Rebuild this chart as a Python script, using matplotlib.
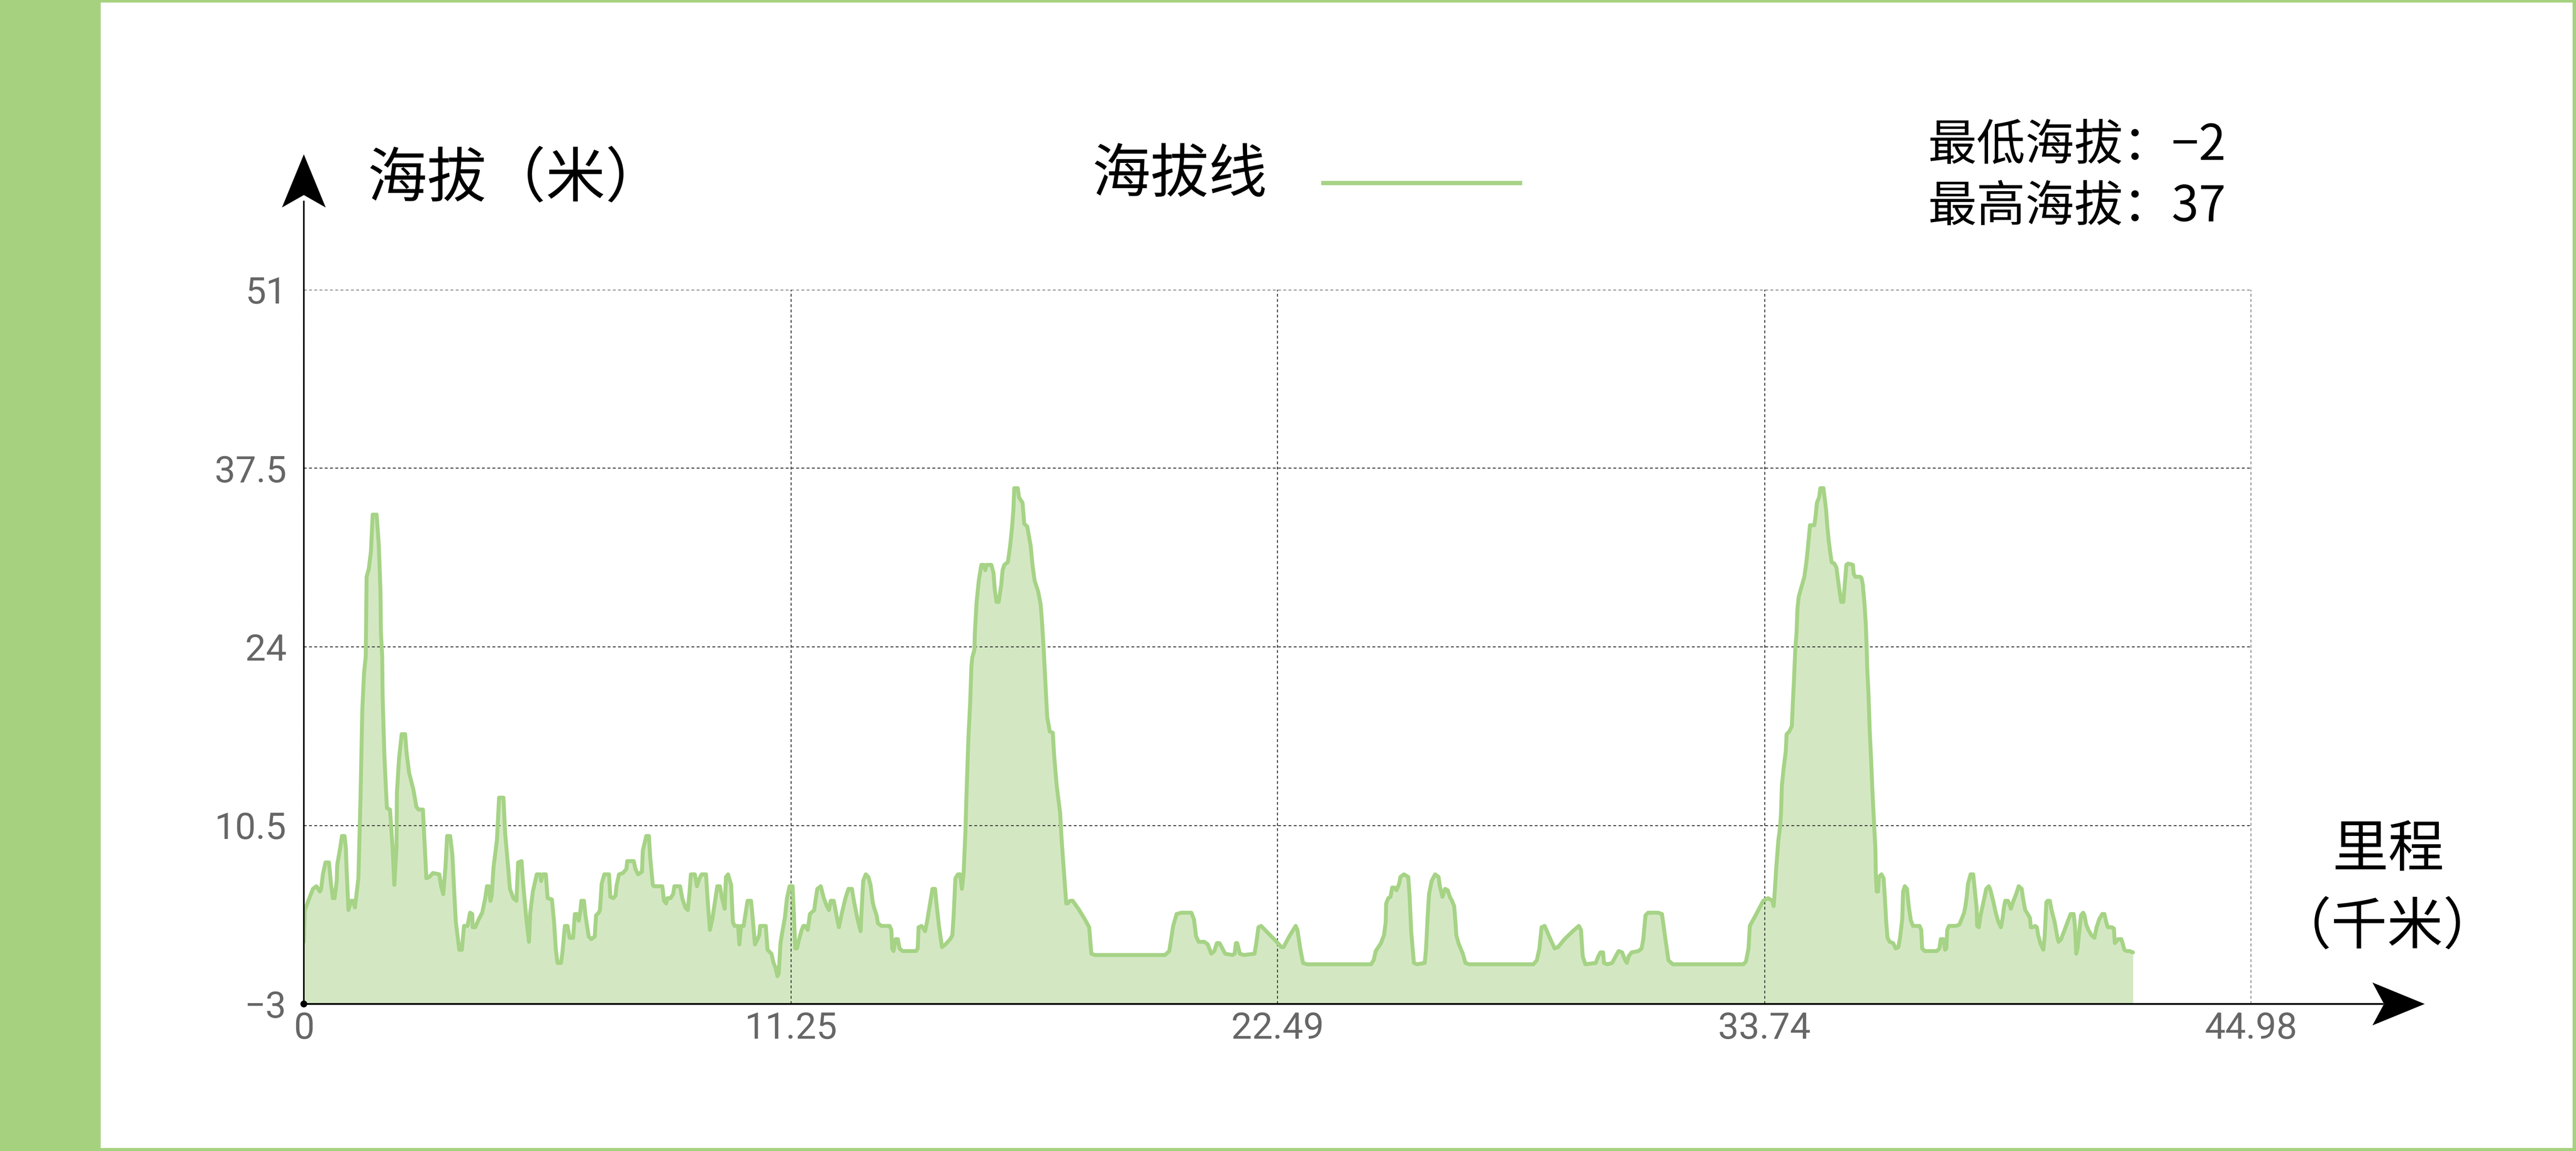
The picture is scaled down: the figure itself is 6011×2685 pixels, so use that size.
import matplotlib
matplotlib.use('Agg')
import matplotlib.pyplot as plt
from matplotlib.patches import Rectangle, Polygon, Circle

# elevation profile, in four stretches
# distance in km, elevation in m
dist_a = [0.0, 0.02, 0.21, 0.29, 0.37, 0.40, 0.44, 0.50, 0.58, 0.63,
          0.67, 0.71, 0.76, 0.77, 0.84, 0.88, 0.94, 0.97, 0.99, 1.03,
          1.09, 1.14, 1.18, 1.26, 1.31, 1.35, 1.39, 1.43, 1.45, 1.50,
          1.55, 1.59, 1.68, 1.73, 1.77, 1.78, 1.81, 1.82, 1.86, 1.90,
          1.92, 1.99, 2.05, 2.09, 2.14, 2.15, 2.20, 2.26, 2.34, 2.37,
          2.43, 2.53, 2.60, 2.65, 2.75, 2.79, 2.83, 2.90, 2.98, 3.13,
          3.17, 3.22, 3.27, 3.31, 3.38, 3.43, 3.47, 3.51, 3.59, 3.65,
          3.70, 3.78, 3.84, 3.89, 3.90, 3.96, 4.04, 4.12, 4.19, 4.23,
          4.27, 4.31, 4.34, 4.38, 4.46, 4.51, 4.61, 4.65, 4.72, 4.76,
          4.84, 4.91, 4.95, 5.03, 5.06, 5.14, 5.20, 5.23, 5.29, 5.38,
          5.46, 5.48, 5.52, 5.59, 5.63, 5.73, 5.78, 5.82, 5.86, 5.94,
          5.97, 6.03, 6.09, 6.14, 6.22, 6.26, 6.31, 6.35, 6.39, 6.41,
          6.47, 6.50, 6.58, 6.64, 6.72, 6.75, 6.81, 6.84, 6.88, 6.94,
          7.05, 7.08, 7.15, 7.20, 7.22, 7.28, 7.37, 7.45, 7.47, 7.62,
          7.66, 7.72, 7.81, 7.83, 7.91, 7.97, 8.00, 8.06, 8.09, 8.28,
          8.32, 8.37, 8.40, 8.47, 8.53, 8.56, 8.69, 8.74, 8.81, 8.87,
          8.91, 8.94, 9.03, 9.08, 9.14, 9.19, 9.29, 9.33, 9.38, 9.44,
          9.50, 9.55, 9.61, 9.66, 9.72, 9.75, 9.80, 9.87, 9.91, 9.95,
          10.03, 10.06, 10.10, 10.16, 10.20, 10.25, 10.33, 10.37, 10.42, 10.48,
          10.52, 10.54, 10.67, 10.71, 10.80, 10.85, 10.90, 10.94, 10.97, 11.01,
          11.05, 11.11, 11.16, 11.22, 11.29, 11.32, 11.35, 11.39, 11.44, 11.50,
          11.54, 11.58, 11.64, 11.69, 11.79]
elev_a = [1.7, 4.1, 5.7, 5.9, 5.5, 5.7, 6.8, 7.7, 7.7, 6.0,
          5.0, 5.0, 6.3, 7.5, 8.8, 9.7, 9.7, 8.8, 7.0, 4.1,
          4.8, 4.8, 4.3, 6.5, 12.7, 19.2, 22.0, 23.3, 29.3, 29.9,
          31.2, 34.0, 34.0, 31.8, 28.2, 25.1, 23.3, 20.2, 15.8, 13.0,
          11.8, 11.7, 8.8, 6.0, 8.8, 13.0, 15.6, 17.4, 17.4, 16.1,
          14.5, 13.2, 11.9, 11.7, 11.7, 9.1, 6.5, 6.6, 6.9, 6.8,
          5.9, 5.3, 7.3, 9.7, 9.7, 8.3, 5.7, 3.2, 1.1, 1.1,
          2.9, 2.9, 3.9, 3.8, 2.8, 2.8, 3.4, 3.9, 5.0, 5.9,
          5.9, 4.8, 5.2, 7.3, 9.4, 12.6, 12.6, 9.9, 7.3, 5.7,
          5.0, 4.8, 7.7, 7.8, 6.3, 3.4, 1.7, 3.9, 5.5, 6.8,
          6.8, 6.3, 6.8, 6.8, 5.0, 4.9, 3.2, 1.1, 0.1, 0.1,
          0.8, 2.9, 2.9, 2.0, 2.0, 3.8, 3.8, 3.3, 4.1, 4.8,
          4.8, 3.8, 2.1, 1.9, 2.1, 3.7, 3.9, 4.1, 6.1, 6.8,
          6.8, 5.1, 5.0, 5.2, 5.9, 6.8, 6.9, 7.2, 7.8, 7.8,
          7.2, 6.8, 7.0, 8.6, 9.7, 9.7, 8.1, 6.0, 5.9, 5.9,
          4.8, 4.6, 5.0, 5.0, 5.3, 5.9, 5.9, 5.0, 4.3, 4.1,
          5.5, 6.8, 6.8, 5.9, 6.5, 6.8, 6.8, 4.7, 2.6, 3.5,
          4.8, 5.9, 5.9, 5.0, 4.2, 6.6, 6.8, 6.0, 3.2, 2.9,
          2.9, 1.5, 2.9, 2.9, 3.8, 4.8, 4.8, 3.4, 1.5, 1.9,
          2.2, 2.9, 2.9, 1.1, 0.8, 0.1, -0.3, -0.9, -0.7, 1.6,
          2.4, 3.5, 5.0, 5.9, 5.9, 3.7, 1.2, 1.2, 1.9, 2.6,
          2.9, 2.9, 2.6, 3.8, 4.1]

dist_b = [11.80, 11.86, 11.94, 12.01, 12.08, 12.13, 12.17, 12.24, 12.28, 12.32,
          12.36, 12.43, 12.51, 12.58, 12.66, 12.71, 12.79, 12.86, 12.88, 12.92,
          12.98, 13.04, 13.09, 13.14, 13.17, 13.23, 13.26, 13.34, 13.53, 13.57,
          13.59, 13.62, 13.67, 13.72, 13.76, 13.83, 14.14, 14.18, 14.20, 14.27,
          14.35, 14.40, 14.52, 14.58, 14.61, 14.67, 14.74, 14.82, 14.93, 14.98,
          15.01, 15.05, 15.11, 15.16, 15.20, 15.24, 15.28, 15.31, 15.35, 15.39,
          15.42, 15.44, 15.49, 15.50, 15.54, 15.59, 15.65, 15.71, 15.74, 15.77,
          15.88, 15.93, 15.96, 16.00, 16.05, 16.11, 16.14, 16.18, 16.26, 16.28,
          16.32, 16.36, 16.39, 16.41, 16.49, 16.52, 16.60, 16.64, 16.71, 16.79,
          16.83, 16.88, 16.96, 17.02, 17.05, 17.09, 17.13, 17.17, 17.23, 17.30,
          17.33, 17.39, 17.47, 17.50, 17.55, 17.61, 17.64, 17.70, 17.76, 17.89,
          18.04, 18.14, 18.19, 18.27, 19.89, 19.99, 20.08, 20.16, 20.27, 20.43,
          20.50, 20.56, 20.61, 20.67, 20.80, 20.88, 20.96, 21.03, 21.09, 21.15,
          21.20, 21.28, 21.45, 21.50, 21.53, 21.56, 21.62, 21.71, 21.96, 22.00,
          22.05, 22.11, 22.32, 22.47, 22.58]
elev_b = [4.4, 5.7, 5.9, 5.0, 4.4, 4.1, 4.8, 4.8, 4.1, 3.4,
          2.8, 3.9, 5.0, 5.7, 5.7, 4.7, 3.4, 2.5, 3.9, 6.3,
          6.8, 6.6, 6.0, 4.7, 4.3, 3.7, 3.1, 2.9, 2.9, 2.6,
          1.2, 1.0, 1.9, 1.9, 1.2, 1.0, 1.0, 1.2, 2.8, 2.9,
          2.5, 3.3, 5.7, 5.7, 4.7, 2.9, 1.3, 1.5, 1.9, 2.2,
          3.7, 6.5, 6.8, 6.8, 5.7, 6.9, 9.9, 13.2, 17.1, 19.7,
          22.5, 23.2, 23.8, 25.1, 27.4, 29.0, 30.2, 30.2, 29.8, 30.2,
          30.2, 29.6, 28.3, 27.4, 27.4, 28.7, 29.8, 30.2, 30.4, 30.8,
          31.8, 33.1, 34.4, 36.0, 36.0, 35.3, 34.9, 33.3, 33.1, 31.6,
          30.2, 29.0, 28.2, 27.2, 25.9, 23.8, 21.2, 18.7, 17.6, 17.5,
          15.8, 13.5, 11.4, 9.6, 7.3, 4.6, 4.6, 4.8, 4.8, 4.2,
          3.4, 2.8, 0.8, 0.7, 0.7, 1.0, 2.9, 3.8, 3.9, 3.9,
          3.9, 3.4, 2.1, 1.7, 1.7, 1.5, 0.8, 1.0, 1.6, 1.6,
          1.3, 0.8, 0.7, 0.8, 1.6, 1.6, 0.8, 0.7, 0.8, 1.6,
          2.8, 2.9, 2.2, 1.7, 1.3]

dist_c = [22.63, 22.76, 22.91, 22.95, 23.02, 23.08, 23.17, 24.65, 24.71, 24.76,
          24.88, 24.95, 24.99, 25.00, 25.05, 25.10, 25.14, 25.19, 25.24, 25.30,
          25.33, 25.41, 25.51, 25.54, 25.58, 25.64, 25.71, 25.89, 25.92, 25.96,
          25.99, 26.05, 26.13, 26.21, 26.24, 26.30, 26.36, 26.42, 26.47, 26.52,
          26.57, 26.60, 26.62, 26.67, 26.77, 26.83, 26.92, 28.40, 28.48, 28.54,
          28.59, 28.66, 28.78, 28.89, 28.97, 29.12, 29.31, 29.45, 29.50, 29.54,
          29.60, 29.84, 29.90, 29.95, 30.01, 30.03, 30.11, 30.22, 30.30, 30.37,
          30.45, 30.52, 30.56, 30.60, 30.67, 30.83, 30.90, 30.94, 30.99, 31.05,
          31.17, 31.28, 31.37, 31.45, 31.52, 31.62, 33.25, 33.31, 33.37, 33.40,
          33.55, 33.71, 33.82, 33.92]
elev_c = [1.3, 2.1, 2.9, 2.6, 1.1, 0.1, 0.0, 0.0, 0.3, 1.0,
          1.6, 2.2, 3.2, 4.6, 5.0, 5.1, 5.8, 5.8, 5.6, 6.1,
          6.6, 6.8, 6.6, 5.2, 2.4, 0.1, 0.0, 0.1, 1.1, 3.7,
          5.3, 6.3, 6.8, 6.6, 5.9, 5.1, 5.7, 5.6, 5.1, 4.8,
          4.4, 3.2, 2.2, 1.6, 0.8, 0.1, 0.0, 0.0, 0.3, 1.2,
          2.8, 2.9, 2.0, 1.2, 1.3, 1.9, 2.5, 2.9, 2.6, 0.6,
          0.0, 0.1, 0.6, 0.9, 0.9, 0.1, 0.0, 0.1, 0.6, 1.0,
          0.9, 0.3, 0.1, 0.6, 0.9, 1.0, 1.2, 1.9, 3.7, 3.9,
          3.9, 3.9, 3.8, 1.9, 0.3, 0.0, 0.0, 0.2, 1.2, 2.9,
          3.8, 4.8, 5.0, 4.8]

dist_d = [33.95, 33.97, 34.01, 34.06, 34.10, 34.12, 34.14, 34.18, 34.23, 34.25,
          34.31, 34.37, 34.40, 34.42, 34.45, 34.48, 34.50, 34.53, 34.59, 34.66,
          34.71, 34.75, 34.79, 34.89, 34.92, 34.95, 35.00, 35.03, 35.10, 35.16,
          35.19, 35.22, 35.25, 35.29, 35.35, 35.40, 35.46, 35.51, 35.56, 35.59,
          35.63, 35.67, 35.78, 35.80, 35.84, 35.95, 35.98, 36.01, 36.05, 36.08,
          36.10, 36.11, 36.14, 36.17, 36.20, 36.23, 36.27, 36.30, 36.31, 36.33,
          36.36, 36.38, 36.44, 36.49, 36.52, 36.55, 36.58, 36.63, 36.71, 36.77,
          36.83, 36.87, 36.92, 36.94, 36.98, 37.03, 37.07, 37.12, 37.17, 37.32,
          37.36, 37.38, 37.44, 37.72, 37.78, 37.81, 37.87, 37.91, 37.94, 37.96,
          38.00, 38.16, 38.24, 38.29, 38.35, 38.38, 38.41, 38.44, 38.50, 38.56,
          38.60, 38.64, 38.65, 38.69, 38.73, 38.79, 38.86, 38.92, 38.95, 39.02,
          39.08, 39.14, 39.20, 39.24, 39.27, 39.30, 39.36, 39.39, 39.43, 39.49,
          39.55, 39.61, 39.68, 39.71, 39.76, 39.82, 39.87, 39.89, 39.93, 39.99,
          40.03, 40.06, 40.12, 40.18, 40.21, 40.25, 40.28, 40.33, 40.37, 40.44,
          40.50, 40.53, 40.59, 40.66, 40.75, 40.81, 40.88, 40.91, 40.94, 40.97,
          41.00, 41.05, 41.10, 41.13, 41.17, 41.22, 41.29, 41.36, 41.41, 41.47,
          41.54, 41.59, 41.63, 41.67, 41.76, 41.81, 41.83, 41.86, 41.91, 41.98,
          42.01, 42.05, 42.10, 42.17, 42.25]
elev_d = [4.4, 5.2, 7.3, 9.4, 10.4, 11.4, 13.5, 14.8, 16.1, 17.4,
          17.6, 18.0, 20.2, 21.5, 23.8, 25.1, 26.9, 27.8, 28.5, 29.3,
          30.5, 31.8, 33.2, 33.2, 33.9, 34.9, 35.3, 36.0, 36.0, 34.4,
          33.1, 32.1, 31.3, 30.4, 30.3, 30.0, 28.5, 27.4, 27.4, 28.6,
          30.2, 30.3, 30.2, 29.5, 29.3, 29.3, 29.2, 28.7, 27.2, 25.6,
          23.8, 22.5, 20.5, 17.6, 15.6, 13.2, 10.6, 8.8, 6.8, 5.5,
          5.5, 6.6, 6.8, 6.5, 5.0, 3.2, 2.0, 1.7, 1.6, 1.2,
          1.3, 2.0, 3.4, 5.5, 5.9, 5.7, 4.4, 3.3, 2.9, 2.9,
          2.6, 1.2, 1.0, 1.0, 1.2, 1.9, 1.9, 1.1, 1.2, 2.6,
          2.9, 2.9, 3.0, 3.4, 3.9, 4.4, 5.1, 6.1, 6.8, 6.8,
          5.5, 4.2, 2.9, 2.8, 3.7, 4.6, 5.7, 5.9, 5.7, 4.8,
          3.9, 3.2, 2.8, 3.5, 4.3, 4.8, 4.8, 4.6, 4.2, 4.8,
          5.3, 5.9, 5.7, 5.0, 4.1, 3.8, 3.5, 2.8, 2.8, 2.9,
          2.8, 2.2, 1.5, 1.1, 2.1, 4.7, 4.8, 4.8, 4.1, 3.2,
          2.1, 1.7, 1.9, 2.5, 3.3, 3.8, 3.8, 2.9, 0.8, 1.2,
          2.2, 3.7, 3.9, 3.7, 3.0, 2.6, 2.2, 2.0, 2.8, 3.4,
          3.8, 3.8, 3.2, 2.8, 2.8, 2.7, 1.6, 1.7, 1.9, 1.9,
          1.6, 1.1, 1.0, 1.0, 0.9]

x_ticks = [0, 11.25, 22.49, 33.74, 44.98]
x_labels = ['0', '11.25', '22.49', '33.74', '44.98']
y_ticks = [-3, 10.5, 24, 37.5, 51]
y_labels = ['\u22123', '10.5', '24', '37.5', '51']

min_elev = -2
max_elev = 37

dist = dist_a + dist_b + dist_c + dist_d
elev = elev_a + elev_b + elev_c + elev_d

line_green = '#a6d386'
fill_green = '#d3e8c2'
bar_green = '#a6d280'
cjk = ['Noto Sans CJK SC', 'DejaVu Sans']

W, H = 6011, 2685
fig = plt.figure(figsize=(W / 100, H / 100), dpi=100)
fig.patch.set_facecolor('white')

# plot area (pixel box of the original)
ax = fig.add_axes([709 / W, 343 / H, 4544 / W, 1666 / H])
ax.set_facecolor('none')
ax.fill_between(dist, elev, -3, color=fill_green, lw=0, zorder=1)
ax.plot(dist, elev, color=line_green, lw=6.6, solid_joinstyle='round',
        solid_capstyle='round', zorder=3)
ax.set_xlim(0, 44.98)
ax.set_ylim(-3, 51)
ax.set_xticks(x_ticks, x_labels, fontfamily='Roboto')
ax.set_yticks(y_ticks, y_labels, fontfamily='Roboto')
ax.tick_params(axis='both', length=0, labelsize=62, labelcolor='#666666')
ax.tick_params(axis='y', pad=29)
ax.tick_params(axis='x', pad=12)
ax.grid(True, color='#333333', lw=1.6, linestyle=(0, (3, 2.5)), zorder=2)
for s in ax.spines.values():
    s.set_visible(False)

# frame, axis arrows and texts in pixel space
deco = fig.add_axes([0, 0, 1, 1], zorder=3)
deco.set_xlim(0, W)
deco.set_ylim(H, 0)
deco.axis('off')

deco.add_patch(Rectangle((0, 0), 235, H, color=bar_green, lw=0))
deco.add_patch(Rectangle((235, 0), W - 235, 6, color=bar_green, lw=0))
deco.add_patch(Rectangle((W - 8, 0), 8, H, color=bar_green, lw=0))
deco.add_patch(Rectangle((235, H - 7), W - 235, 7, color=bar_green, lw=0))

deco.plot([709, 709], [2342, 470], color='black', lw=2.6)
deco.plot([709, 5560], [2342, 2342], color='black', lw=3)
deco.add_patch(Polygon([(709, 360), (658, 484), (709, 455), (760, 484)],
                       closed=True, color='black', lw=0))
deco.add_patch(Polygon([(5658, 2342), (5536, 2292), (5563, 2342), (5536, 2392)],
                       closed=True, color='black', lw=0))
deco.add_patch(Circle((709, 2342), 8, color='black', lw=0))

deco.text(857, 421, '海拔（米）', fontsize=100, family=cjk, weight='medium',
          ha='left', va='center')
deco.text(2548, 409, '海拔线', fontsize=98, family=cjk, weight='medium',
          ha='left', va='center')
deco.plot([3088, 3547], [427, 427], color=line_green, lw=7.2)
low_txt = '最低海拔：' + str(min_elev).replace('-', '\u2212')
deco.text(4499, 340, low_txt, fontsize=82, family=cjk, weight='medium',
          ha='left', va='center')
deco.text(4499, 483, f'最高海拔：{max_elev}', fontsize=82, family=cjk,
          weight='medium', ha='left', va='center')
deco.text(5573, 1985, '里程', fontsize=94, family=cjk, weight='medium',
          ha='center', va='center')
deco.text(5570, 2165, '（千米）', fontsize=94, family=cjk, weight='medium',
          ha='center', va='center')

fig.savefig('out.png', dpi=100, facecolor='white')
